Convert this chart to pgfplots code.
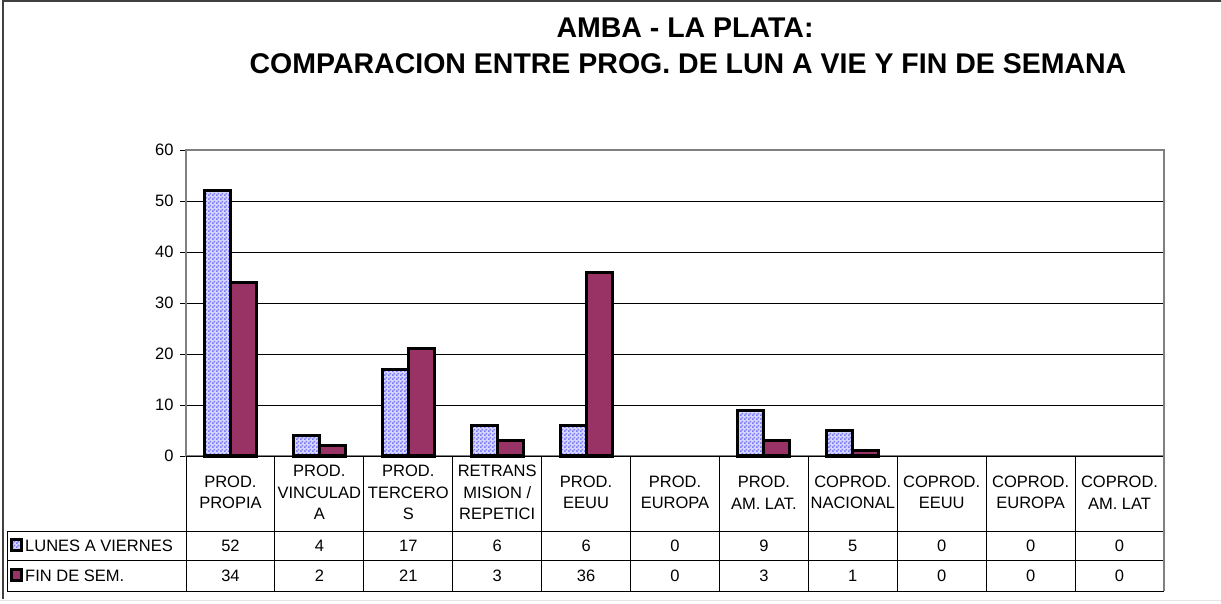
\documentclass[border=0pt]{standalone}
\usepackage{pgfplots}
\pgfplotsset{compat=1.18}
\usepackage{fontspec}
\setmainfont{Liberation Sans}
\usetikzlibrary{patterns}
\definecolor{plum}{RGB}{153,51,102}
\definecolor{peri}{RGB}{120,120,245}
\definecolor{periback}{RGB}{215,215,255}
\pgfdeclarepatternformonly{finecheck}{\pgfpointorigin}{\pgfqpoint{4pt}{4pt}}{\pgfqpoint{4pt}{4pt}}{%
  \pgfpathrectangle{\pgfpointorigin}{\pgfqpoint{2pt}{2pt}}%
  \pgfpathrectangle{\pgfqpoint{2pt}{2pt}}{\pgfqpoint{2pt}{2pt}}%
  \pgfusepath{fill}}

\begin{document}
\begin{tikzpicture}[x=1pt,y=1pt]
\path[use as bounding box] (0,0) rectangle (1221,603);
% outer frame
\draw[line width=1.5pt, black!75] (3,4) -- (3,602) -- (1221,602);
\draw[line width=1pt, black!10] (0,2.5) -- (1221,2.5);

% title
\node[font=\fontsize{28.5}{34}\selectfont\bfseries, anchor=base] at (685,565) {AMBA - LA PLATA:};
\node[font=\fontsize{28.5}{34}\selectfont\bfseries, anchor=base] at (688,529) {COMPARACION ENTRE PROG. DE LUN A VIE Y FIN DE SEMANA};

\begin{axis}[
  at={(186pt,147pt)}, anchor=south west,
  scale only axis, width=978pt, height=306pt,
  xmin=-0.5, xmax=10.5, ymin=0, ymax=60,
  ytick={0,10,...,60}, xtick=\empty,
  ymajorgrids, grid style={black, line width=0.8pt},
  axis line style={draw=gray, line width=2pt},
  tick style={black, line width=0.8pt},
  major tick length=6pt, tick align=outside, ytick pos=left,
  /pgf/number format/assume math mode=true,
  yticklabel style={font=\fontsize{16.5}{19}\selectfont, xshift=-3pt},
  ybar=0pt, bar width=26pt,
  restrict y to domain=0.5:100,
  clip=false,
]
\addplot[draw=black, line width=3pt, preaction={fill=periback}, pattern=finecheck, pattern color=peri]
  coordinates {(0,52)(1,4)(2,17)(3,6)(4,6)(5,0)(6,9)(7,5)(8,0)(9,0)(10,0)};
\addplot[draw=black, line width=3pt, fill=plum]
  coordinates {(0,34)(1,2)(2,21)(3,3)(4,36)(5,0)(6,3)(7,1)(8,0)(9,0)(10,0)};
\end{axis}

% data table
\def\cw{88.909}
\draw[black, line width=1pt] (186,147) -- (1164,147);
\draw[black, line width=1pt] (7,72) -- (1164,72);
\draw[black, line width=1pt] (7,43) -- (1164,43);
\draw[black, line width=1pt] (7,12) -- (1164,12);
\draw[black, line width=1pt] (7,72) -- (7,12);
\foreach \i in {0,...,11} {
  \draw[black, line width=1pt] ({186+\i*\cw},147) -- ({186+\i*\cw},12);
}
\draw[gray, line width=2pt] (1164,147) -- (1164,12);
\foreach \h [count=\i from 0] in {{PROD.\\PROPIA},{PROD.\\VINCULAD\\A},{PROD.\\TERCERO\\S},{RETRANS\\MISION /\\REPETICI},{PROD.\\EEUU},{PROD.\\EUROPA},{PROD.\\AM. LAT.},{COPROD.\\NACIONAL},{COPROD.\\EEUU},{COPROD.\\EUROPA},{COPROD.\\AM. LAT}} {
  \node[font=\fontsize{16.5}{21.5}\selectfont, align=center, inner sep=0pt] at ({186+(\i+0.5)*\cw},110.5) {\h};
}
\foreach \v [count=\i from 0] in {52,4,17,6,6,0,9,5,0,0,0} {
  \node[font=\fontsize{16.5}{19}\selectfont, inner sep=0pt] at ({186+(\i+0.5)*\cw},57.5) {\v};
}
\foreach \v [count=\i from 0] in {34,2,21,3,36,0,3,1,0,0,0} {
  \node[font=\fontsize{16.5}{19}\selectfont, inner sep=0pt] at ({186+(\i+0.5)*\cw},27.5) {\v};
}
% legend keys
\draw[black, line width=2.5pt, preaction={fill=periback}, pattern=finecheck, pattern color=peri] (11.5,63.5) rectangle (21.5,52.5);
\draw[black, line width=2.5pt, fill=plum] (11.5,33.5) rectangle (21.5,22.5);
\node[font=\fontsize{16.5}{19}\selectfont, anchor=west, inner sep=0pt] at (25,57.5) {LUNES A VIERNES};
\node[font=\fontsize{16.5}{19}\selectfont, anchor=west, inner sep=0pt] at (25,27.5) {FIN DE SEM.};
\end{tikzpicture}
\end{document}
